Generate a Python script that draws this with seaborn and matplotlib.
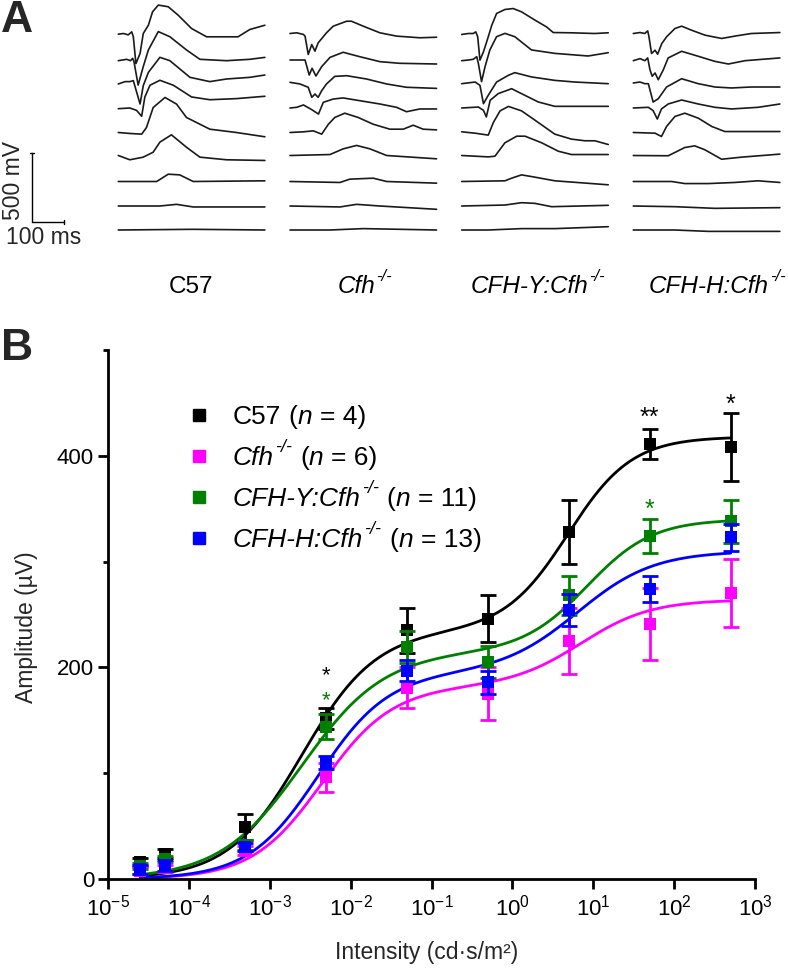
import numpy as np
import pandas as pd
import matplotlib
matplotlib.use("Agg")
import matplotlib.pyplot as plt
import seaborn as sns
from matplotlib import font_manager
from matplotlib.transforms import IdentityTransform

sns.set_theme(style="ticks")
avail = {f.name for f in font_manager.fontManager.ttflist}
BASE = "Liberation Sans" if "Liberation Sans" in avail else "DejaVu Sans"
plt.rcParams["font.family"] = [BASE, "DejaVu Sans"]
plt.rcParams["mathtext.fontset"] = "custom"
plt.rcParams["mathtext.rm"] = BASE
plt.rcParams["mathtext.it"] = BASE + ":italic"
plt.rcParams["mathtext.bf"] = BASE + ":bold"

# ---------------- data: panel B ----------------
intensity = [2.5e-5, 5e-5, 5e-4, 5e-3, 5e-2, 5e-1, 5, 50, 500]
groups = ["C57", "Cfh", "CFH-Y", "CFH-H"]
colors = ["#000000", "#FF00FF", "#008000", "#0000FF"]

c57_mean = [16, 24, 49, 152, 235, 246, 328, 411, 408]
c57_sem = [4, 4, 12, 10, 21, 22, 30, 14, 32]
cfh_mean = [8, 10, 27, 96, 181, 175, 225, 241, 270]
cfh_sem = [3, 3, 4, 14, 19, 25, 31, 34, 32]
cfhy_mean = [12, 19, 32, 144, 219, 205, 268, 324, 338]
cfhy_sem = [3, 3, 5, 12, 15, 15, 18, 16, 20]
cfhh_mean = [9, 13, 30, 110, 197, 186, 254, 274, 323]
cfhh_sem = [4, 5, 4, 6, 10, 11, 15, 12, 13]

# two-site fitted curve parameters (read from the drawn fits)
fit_a1 = [235, 182, 215, 195]
fit_logk1 = [-2.6, -2.35, -2.6, -2.4]
fit_n1 = [0.95, 1.0, 0.85, 1.0]
fit_a2 = [183, 82, 125, 115]
fit_logk2 = [0.69, 0.85, 0.93, 0.81]
fit_n2 = [1.1, 1.0, 1.08, 0.925]

legend_n = [4, 6, 11, 13]

# ---------------- data: panel A (ERG traces, (ms, mV) key points) ----------------
c57_traces = [
    [(0,-5),(16,0),(31,-10),(42,12),(47,-24),(55,-218),(68,-145),(78,0),(94,60),(107,157),(125,206),(156,194),(187,133),(229,36),(276,-24),(374,-24),(411,29),(458,60)],
    [(0,-5),(26,5),(38,-5),(45,12),(49,-12),(62,-182),(78,-48),(94,73),(125,206),(161,169),(213,73),(255,5),(338,-5),(411,5),(458,19)],
    [(0,-7),(21,10),(36,10),(47,17),(68,-152),(78,-19),(94,77),(130,186),(161,162),(224,41),(286,10),(338,29),(411,41),(458,58)],
    [(0,-5),(36,0),(57,-17),(73,-60),(83,80),(99,165),(130,201),(172,165),(229,80),(286,60),(369,68),(458,85)],
    [(0,0),(36,-7),(73,-12),(88,36),(109,181),(146,254),(182,206),(213,109),(286,24),(369,0),(458,-31)],
    [(0,0),(36,-31),(78,-12),(109,24),(130,97),(166,150),(213,60),(255,-12),(338,-31),(458,-36)],
    [(0,0),(120,0),(156,53),(192,48),(234,0),(458,5)],
    [(0,0),(130,0),(182,12),(234,-7),(458,-7)],
    [(0,0),(234,5),(458,0)],
]
cfh_traces = [
    [(0,0),(21,5),(42,-7),(47,-19),(57,-152),(68,-80),(78,-128),(88,-68),(114,5),(135,53),(177,89),(192,89),(229,53),(281,5),(333,-19),(406,-31),(458,-27)],
    [(0,0),(47,0),(60,-109),(69,-60),(81,-116),(99,-48),(125,19),(166,56),(218,24),(281,-12),(343,-24),(458,-29)],
    [(0,5),(31,-7),(57,-31),(68,-104),(78,-80),(88,-104),(99,-56),(114,-7),(140,48),(177,53),(239,29),(302,-7),(364,-31),(458,-39)],
    [(0,0),(21,5),(42,22),(68,-12),(89,-44),(104,41),(135,65),(166,73),(218,53),(281,29),(333,5),(364,-27),(406,-7),(458,-7)],
    [(0,0),(42,5),(73,12),(99,-12),(120,60),(140,109),(171,140),(213,109),(260,60),(312,24),(354,24),(385,53),(416,24),(458,19)],
    [(0,0),(125,7),(166,48),(208,73),(250,48),(302,0),(458,-24)],
    [(0,0),(156,-7),(187,17),(260,24),(302,0),(458,-12)],
    [(0,0),(156,-7),(208,12),(281,0),(458,-24)],
    [(0,0),(125,0),(229,10),(458,0)],
]
cfhy_traces = [
    [(0,-7),(21,0),(36,0),(44,12),(50,-24),(57,-193),(68,-133),(83,-24),(94,60),(109,145),(135,174),(161,181),(187,157),(229,97),(265,48),(286,7),(343,5),(416,0),(458,5)],
    [(0,-5),(21,0),(36,5),(47,24),(52,-24),(62,-157),(73,-48),(88,73),(109,169),(135,193),(166,169),(218,73),(291,48),(395,29),(458,53)],
    [(0,-5),(42,7),(57,-17),(68,-150),(83,-89),(109,7),(146,56),(166,75),(218,44),(291,19),(354,7),(458,-5)],
    [(0,0),(52,7),(68,-17),(77,-65),(89,56),(114,104),(156,140),(187,104),(239,44),(291,12),(458,12)],
    [(0,5),(42,-5),(83,-19),(99,73),(120,157),(146,189),(187,157),(239,73),(291,-12),(343,-48),(385,-60),(416,-60),(458,-87)],
    [(0,0),(83,-10),(104,-5),(135,92),(172,140),(198,140),(250,92),(302,31),(343,7),(458,7)],
    [(0,0),(135,5),(156,24),(187,48),(218,36),(291,5),(458,-24)],
    [(0,0),(135,7),(187,24),(229,19),(281,-5),(458,5)],
    [(0,0),(83,0),(187,10),(291,10),(458,24)],
]
cfhh_traces = [
    [(0,0),(21,7),(36,0),(45,19),(49,-24),(57,-145),(68,-121),(76,-150),(89,-73),(104,-24),(130,36),(151,53),(182,24),(224,-12),(276,-36),(317,-19),(369,0),(458,7)],
    [(0,-5),(21,10),(36,-5),(45,15),(52,-70),(59,-118),(68,-94),(78,-143),(94,-70),(109,15),(151,63),(203,27),(255,-10),(297,-29),(349,-5),(458,15)],
    [(0,0),(21,7),(36,-5),(47,-5),(62,-138),(78,-114),(104,-29),(151,31),(203,-5),(255,-29),(307,-36),(369,-29),(458,-29)],
    [(0,0),(47,5),(62,-19),(75,-80),(88,-7),(109,29),(151,58),(203,29),(255,5),(307,-7),(390,5),(458,29)],
    [(0,0),(68,-5),(88,-29),(104,44),(130,116),(161,140),(203,104),(245,44),(286,7),(458,7)],
    [(0,0),(109,-2),(130,22),(161,58),(192,70),(224,41),(276,-27),(338,-12),(458,10)],
    [(0,0),(120,0),(161,-15),(234,-15),(317,-7),(390,5),(458,-7)],
    [(0,0),(130,-5),(255,-17),(458,-12)],
    [(0,0),(130,0),(234,-10),(458,-10)],
]
scale_ms = 100
scale_mv = 500

# ---------------- figure ----------------
W, H = 788, 973
fig = plt.figure(figsize=(W / 100, H / 100), dpi=100)
fig.patch.set_facecolor("white")

MS_PER_PX = 3.125
MV_PER_PX = 7.25

# ---- Panel A ----
axA = fig.add_axes([0, 1 - 250 / H, 1, 250 / H])
axA.set_xlim(0, W * MS_PER_PX)
axA.set_ylim(-250 * MV_PER_PX, 0)
axA.axis("off")
col_x_px = [118.3, 290.0, 461.7, 633.3]
row_y_px = [33.5, 60, 83, 108, 132.5, 155.5, 181.5, 206, 230]
for cx, traces in zip(col_x_px, [c57_traces, cfh_traces, cfhy_traces, cfhh_traces]):
    for ry, tr in zip(row_y_px, traces):
        t = np.array([p[0] for p in tr], float)
        v = np.array([p[1] for p in tr], float)
        axA.plot(t + cx * MS_PER_PX, v - ry * MV_PER_PX, color="#1a1a1a", lw=1.2,
                 solid_joinstyle="round")

# scale bar
sb_x = 32 * MS_PER_PX
sb_y = -222 * MV_PER_PX
axA.plot([sb_x, sb_x], [sb_y, sb_y + scale_mv], color="black", lw=1.0)
axA.plot([sb_x, sb_x + scale_ms], [sb_y, sb_y], color="black", lw=1.0)
axA.plot([sb_x - 6, sb_x + 6], [sb_y + scale_mv, sb_y + scale_mv], color="black", lw=1.0)
axA.plot([sb_x + scale_ms, sb_x + scale_ms], [sb_y - 15, sb_y + 15], color="black", lw=1.0)
axA.text(13 * MS_PER_PX, -181 * MV_PER_PX, f"{scale_mv} mV", rotation=90,
         ha="center", va="center", fontsize=16.5)
axA.text(44 * MS_PER_PX, -238 * MV_PER_PX, f"{scale_ms} ms", ha="center",
         va="center", fontsize=16.5)

fig.text(1 / W, 1 - 21 / H, "A", fontsize=32, fontweight="bold", ha="left", va="center")
fig.text(1 / W, 1 - 348 / H, "B", fontsize=32, fontweight="bold", ha="left", va="center")

# ---- rich text helper (italic / superscript pieces) ----
renderer = fig.canvas.get_renderer()


def rich(parts, x_px, ybase_px, size, ha="left", color="black"):
    arts = []
    total = 0.0
    for text, ital, sup, gap in parts:
        fs = size * (0.68 if sup else 1.0)
        t = fig.text(0, 0, text, fontsize=fs, style="italic" if ital else "normal",
                     color=color, ha="left", va="baseline", transform=IdentityTransform())
        w = t.get_window_extent(renderer=renderer).width
        g = gap * size * 100 / 72
        arts.append((t, sup, w, g))
        total += w + g
    x = x_px - (total / 2 if ha == "center" else 0)
    for t, sup, w, g in arts:
        x += g
        y = H - ybase_px + (0.5 * size * 100 / 72 if sup else 0)
        t.set_position((x, y))
        x += w


label_parts = [
    [("C57", 0, 0, 0)],
    [("Cfh", 1, 0, 0), ("-/-", 1, 1, 0.04)],
    [("CFH-Y:Cfh", 1, 0, 0), ("-/-", 1, 1, 0.04)],
    [("CFH-H:Cfh", 1, 0, 0), ("-/-", 1, 1, 0.04)],
]
col_label_x = [191, 365, 538, 717]
for parts, lx in zip(label_parts, col_label_x):
    rich(parts, lx, 293, 17.5, ha="center")

# ---- Panel B ----
L, R, T, B = 108, 755, 350, 879
axB = fig.add_axes([L / W, 1 - B / H, (R - L) / W, (B - T) / H])
axB.set_xscale("log")
axB.set_xlim(1e-5, 1e3)
axB.set_ylim(0, 500)
axB.set_facecolor("white")
for s in ["top", "right"]:
    axB.spines[s].set_visible(False)
for s in ["left", "bottom"]:
    axB.spines[s].set_linewidth(2.0)
    axB.spines[s].set_color("black")

# fitted curves
xs = np.logspace(np.log10(intensity[0]), np.log10(intensity[-1]), 400)
rows = []
for i, g in enumerate(groups):
    lx = np.log10(xs)
    y = fit_a1[i] / (1 + 10 ** (fit_n1[i] * (fit_logk1[i] - lx))) + \
        fit_a2[i] / (1 + 10 ** (fit_n2[i] * (fit_logk2[i] - lx)))
    rows.append(pd.DataFrame({"x": xs, "y": y, "group": g}))
curves = pd.concat(rows, ignore_index=True)
sns.lineplot(data=curves, x="x", y="y", hue="group", hue_order=groups,
             palette=colors, legend=False, linewidth=2.0, ax=axB, zorder=2)

means = [c57_mean, cfh_mean, cfhy_mean, cfhh_mean]
sems = [c57_sem, cfh_sem, cfhy_sem, cfhh_sem]
for i, g in enumerate(groups):
    axB.errorbar(intensity, means[i], yerr=sems[i], fmt="none", ecolor=colors[i],
                 elinewidth=2.0, capsize=6, capthick=2.0, zorder=3 + 2 * i)
    df = pd.DataFrame({"x": intensity, "y": means[i]})
    sns.scatterplot(data=df, x="x", y="y", marker="s", s=80, color=colors[i],
                    edgecolor=colors[i], linewidth=0, ax=axB, zorder=4 + 2 * i,
                    legend=False)

# significance asterisks
axB.text(5e-3, 192, "*", color="black", ha="center", va="center", fontsize=16)
axB.text(5e-3, 169, "*", color="#008000", ha="center", va="center", fontsize=16)
axB.text(50, 436, "**", color="black", ha="center", va="center", fontsize=18)
axB.text(500, 448, "*", color="black", ha="center", va="center", fontsize=18)
axB.text(50, 349, "*", color="#008000", ha="center", va="center", fontsize=18)

axB.set_xticks([10.0 ** k for k in range(-5, 4)])
axB.xaxis.set_minor_locator(matplotlib.ticker.NullLocator())
axB.set_yticks([0, 200, 400])
axB.set_yticks([100, 300, 500], minor=True)
axB.tick_params(axis="both", which="major", direction="out", length=7, width=2.0,
                labelsize=16, color="black", labelcolor="black")
axB.tick_params(axis="y", which="minor", direction="out", length=3.5, width=2.0,
                color="black")
axB.tick_params(axis="x", pad=4)
axB.tick_params(axis="y", pad=3)
axB.set_xlabel("")
axB.set_ylabel("")
fig.text(27 / W, 1 - 627 / H, "Amplitude (µV)", rotation=90, ha="center",
         va="center", fontsize=16.5)
fig.text(427 / W, 1 - 952 / H, "Intensity (cd·s/m²)", ha="center", va="center",
         fontsize=16.5)

# legend (manual)
leg_rows = [415, 456, 497, 538]
leg_parts = [
    [("C57", 0, 0, 0), ("(", 0, 0, 0.28), ("n", 1, 0, 0), ("= 4)", 0, 0, 0.3)],
    [("Cfh", 1, 0, 0), ("-/-", 1, 1, 0.04), ("(", 0, 0, 0.3), ("n", 1, 0, 0), ("= 6)", 0, 0, 0.3)],
    [("CFH-Y:Cfh", 1, 0, 0), ("-/-", 1, 1, 0.04), ("(", 0, 0, 0.3), ("n", 1, 0, 0), ("= 11)", 0, 0, 0.3)],
    [("CFH-H:Cfh", 1, 0, 0), ("-/-", 1, 1, 0.04), ("(", 0, 0, 0.3), ("n", 1, 0, 0), ("= 13)", 0, 0, 0.3)],
]
for i, (ry, parts) in enumerate(zip(leg_rows, leg_parts)):
    fig.lines.append(matplotlib.lines.Line2D([199], [H - ry], marker="s", markersize=9,
                                             color=colors[i], linestyle="none",
                                             transform=IdentityTransform()))
    rich(parts, 233, ry + 9, 19)

fig.savefig("out.png", dpi=100, facecolor="white")
